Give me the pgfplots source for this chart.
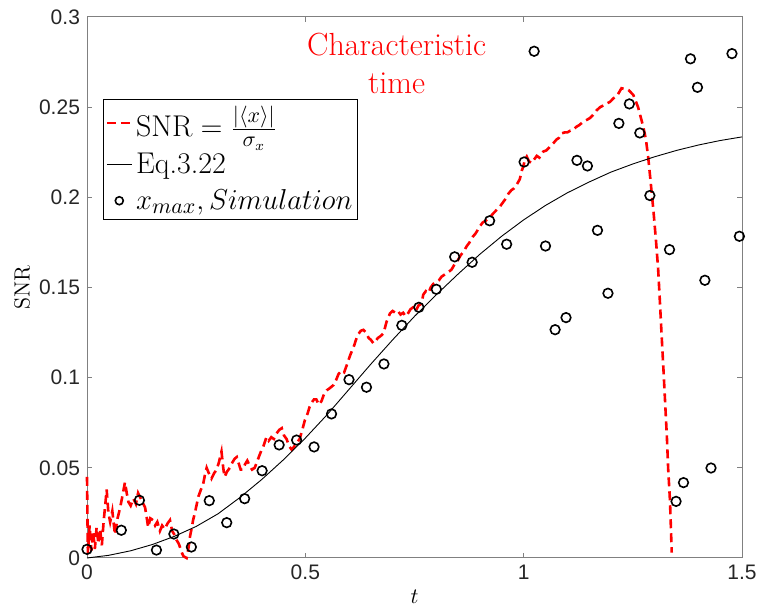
\documentclass[border=0pt]{standalone}
\usepackage{fontspec}
\usepackage{pgfplots}
\pgfplotsset{compat=1.18}
\newfontfamily\arialfont{Liberation Sans}
\pgfplotsset{
  shortline legend/.style={legend image code/.code={\draw[##1] (0cm,0cm) -- (0.44cm,0cm);}},
  circ legend/.style={legend image code/.code={\draw[mark size=2pt,##1] plot coordinates {(0.22cm,0cm)};}},
}
\begin{document}
\begin{tikzpicture}
\begin{axis}[name=ax, scale only axis, width=327.5pt, height=270.5pt,
  xmin=0, xmax=1.5, ymin=0, ymax=0.3,
  xtick={0,0.5,1,1.5}, xticklabels={0,0.5,1,1.5},
  ytick={0,0.05,0.1,0.15,0.2,0.25,0.3}, yticklabels={0,0.05,0.1,0.15,0.2,0.25,0.3},
  tick align=inside, tick pos=both, major tick length=2.5pt,
  axis line style={black!50, line width=0.5pt},
  every tick/.style={black!50, line width=0.5pt},
  tick label style={font=\arialfont\fontsize{10.5}{12}\selectfont, text=black!85},
  clip=false,
  xlabel={$t$},
  xlabel style={at={(axis description cs:0.5,0)}, anchor=north, yshift=-16pt, inner sep=0pt, font=\fontsize{11}{13}\selectfont},
  ylabel={SNR},
  ylabel style={at={(axis description cs:-0.0992,0.5)}, anchor=center, font=\fontsize{11}{13}\selectfont},
  legend style={at={(axis description cs:0.0244,0.8484)}, anchor=north west,
    draw=black, line width=0.5pt, font=\fontsize{15}{17.5}\selectfont,
    inner xsep=1pt, inner ysep=2pt, row sep=3.5pt, nodes={inner sep=1.5pt}},
  legend cell align=left,
]
\addplot[red, line width=1.3pt, dash pattern=on 4.5pt off 2.5pt, shortline legend]
coordinates {
(0.000,0.045)(0.002,0.002)(0.006,0.018)(0.010,0.004)(0.014,0.015)(0.018,0.005)
(0.022,0.017)(0.026,0.008)(0.030,0.016)(0.034,0.007)(0.038,0.020)(0.042,0.030)
(0.045,0.038)(0.049,0.025)(0.053,0.020)(0.058,0.026)(0.064,0.013)(0.070,0.022)
(0.076,0.028)(0.080,0.033)(0.087,0.042)(0.091,0.036)(0.095,0.031)(0.100,0.029)
(0.106,0.033)(0.112,0.030)(0.117,0.036)(0.121,0.034)(0.127,0.031)(0.133,0.028)
(0.137,0.022)(0.140,0.017)(0.145,0.022)(0.151,0.021)(0.156,0.018)(0.161,0.020)
(0.167,0.015)(0.172,0.018)(0.178,0.016)(0.184,0.019)(0.190,0.021)(0.195,0.015)
(0.200,0.013)(0.205,0.010)(0.210,0.008)(0.213,0.006)(0.217,0.003)(0.221,0.001)
(0.228,0.000)(0.232,0.005)(0.236,0.012)(0.240,0.017)(0.243,0.021)(0.248,0.026)
(0.255,0.034)(0.261,0.038)(0.266,0.041)(0.270,0.046)(0.274,0.050)(0.279,0.047)
(0.285,0.044)(0.291,0.047)(0.297,0.049)(0.302,0.053)(0.308,0.059)(0.312,0.050)
(0.315,0.045)(0.321,0.048)(0.327,0.050)(0.333,0.053)(0.338,0.055)(0.343,0.056)
(0.348,0.052)(0.352,0.049)(0.357,0.049)(0.362,0.052)(0.367,0.054)(0.373,0.051)
(0.378,0.049)(0.384,0.050)(0.389,0.053)(0.395,0.057)(0.400,0.060)(0.404,0.062)
(0.411,0.067)(0.416,0.065)(0.422,0.067)(0.428,0.066)(0.434,0.069)(0.440,0.071)
(0.446,0.072)(0.451,0.068)(0.457,0.066)(0.463,0.062)(0.469,0.060)(0.475,0.062)
(0.481,0.064)(0.487,0.066)(0.493,0.071)(0.499,0.0765)(0.505,0.080)(0.510,0.084)
(0.514,0.086)(0.520,0.088)(0.525,0.088)(0.531,0.085)(0.537,0.087)(0.543,0.091)
(0.549,0.093)(0.555,0.094)(0.560,0.095)(0.565,0.096)(0.571,0.099)(0.576,0.102)
(0.583,0.104)(0.589,0.103)(0.595,0.107)(0.602,0.112)(0.607,0.115)(0.612,0.118)
(0.616,0.121)(0.621,0.124)(0.627,0.126)(0.633,0.1265)(0.639,0.125)(0.645,0.122)
(0.650,0.121)(0.656,0.119)(0.660,0.120)(0.666,0.122)(0.672,0.123)(0.679,0.1246)
(0.686,0.131)(0.694,0.1357)(0.700,0.137)(0.706,0.136)(0.712,0.137)(0.718,0.135)
(0.724,0.136)(0.730,0.134)(0.736,0.136)(0.741,0.138)(0.747,0.139)(0.753,0.137)
(0.759,0.140)(0.766,0.141)(0.770,0.146)(0.776,0.148)(0.782,0.147)(0.787,0.150)
(0.793,0.152)(0.800,0.153)(0.806,0.154)(0.812,0.156)(0.818,0.157)(0.824,0.158)
(0.830,0.159)(0.835,0.160)(0.842,0.163)(0.849,0.165)(0.856,0.168)(0.863,0.170)
(0.869,0.1727)(0.876,0.175)(0.883,0.178)(0.890,0.180)(0.900,0.184)(0.906,0.186)
(0.913,0.187)(0.923,0.189)(0.930,0.191)(0.938,0.193)(0.946,0.195)(0.952,0.197)
(0.958,0.199)(0.965,0.202)(0.972,0.204)(0.978,0.205)(0.984,0.207)(0.991,0.210)
(0.996,0.215)(0.999,0.217)(1.003,0.221)(1.007,0.2226)(1.012,0.220)(1.018,0.219)
(1.024,0.221)(1.030,0.223)(1.036,0.222)(1.045,0.2254)(1.052,0.226)(1.060,0.228)
(1.068,0.230)(1.075,0.232)(1.081,0.233)(1.087,0.2355)(1.094,0.236)(1.100,0.236)
(1.107,0.237)(1.114,0.2374)(1.120,0.239)(1.127,0.240)(1.137,0.242)(1.145,0.243)
(1.152,0.244)(1.159,0.2457)(1.166,0.248)(1.175,0.250)(1.183,0.251)(1.190,0.252)
(1.198,0.253)(1.206,0.255)(1.213,0.256)(1.218,0.258)(1.224,0.2605)(1.232,0.2600)
(1.240,0.2595)(1.251,0.2568)(1.262,0.250)(1.274,0.239)(1.280,0.232)(1.285,0.2226)
(1.291,0.208)(1.297,0.193)(1.303,0.176)(1.308,0.160)(1.312,0.142)(1.316,0.123)
(1.320,0.105)(1.324,0.086)(1.328,0.067)(1.331,0.049)(1.335,0.032)(1.337,0.018)
(1.339,0.003)
};
\addlegendentry{$\mathrm{SNR}=\frac{|\langle x\rangle|}{\sigma_x}$}
\addplot[black, line width=0.45pt, shortline legend]
coordinates {
(0,0)(0.05,0.0015)(0.1,0.0040)(0.15,0.0075)(0.2,0.0120)(0.25,0.0175)(0.3,0.0245)
(0.35,0.0335)(0.4,0.0435)(0.45,0.0545)(0.5,0.0665)(0.55,0.0795)(0.6,0.0935)
(0.65,0.1075)(0.7,0.1210)(0.75,0.1340)(0.8,0.1460)(0.85,0.1575)(0.9,0.1685)
(0.95,0.1785)(1.0,0.1875)(1.05,0.1955)(1.1,0.2025)(1.15,0.2085)(1.2,0.2140)
(1.25,0.2185)(1.3,0.2225)(1.35,0.2260)(1.4,0.2290)(1.45,0.2315)(1.5,0.2335)
};
\addlegendentry{Eq.3.22}
\addplot[only marks, mark=o, mark size=2.4pt, black, line width=0.8pt, circ legend]
coordinates {
(0,0.0048)(0.0786,0.0154)(0.12,0.032)(0.159,0.0044)(0.199,0.0133)(0.239,0.0061)
(0.28,0.0318)(0.32,0.0196)(0.361,0.0329)(0.401,0.0484)(0.44,0.0627)(0.48,0.0654)
(0.52,0.0616)(0.56,0.0799)(0.60,0.0989)(0.64,0.0947)(0.68,0.1076)(0.721,0.129)
(0.76,0.139)(0.80,0.149)(0.842,0.167)(0.882,0.164)(0.922,0.187)(0.961,0.174)
(1.001,0.2196)(1.024,0.281)(1.050,0.173)(1.072,0.1266)(1.097,0.1333)(1.122,0.2205)
(1.146,0.2174)(1.169,0.1817)(1.193,0.1468)(1.218,0.241)(1.242,0.2518)(1.266,0.2357)
(1.289,0.201)(1.334,0.171)(1.349,0.0314)(1.366,0.0418)(1.382,0.2768)(1.398,0.261)
(1.415,0.154)(1.429,0.0499)(1.477,0.2797)(1.494,0.1784)
};
\addlegendentry{$x_{max},Simulation$}
\node[red, align=center, anchor=north, inner sep=0pt, font=\fontsize{16}{19}\selectfont]
  at (axis cs:0.709,0.2915) {Characteristic\\time};
\end{axis}
\pgfresetboundingbox
\path[use as bounding box] ([xshift=-43.5pt,yshift=-25pt]ax.south west) rectangle ([xshift=10.5pt,yshift=8.5pt]ax.north east);
\end{tikzpicture}
\end{document}
